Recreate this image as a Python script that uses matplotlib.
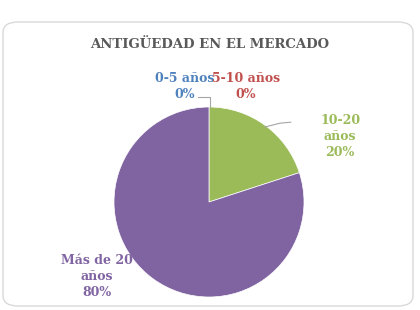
import matplotlib
matplotlib.use("Agg")
from matplotlib import pyplot as plt
from matplotlib.patches import FancyBboxPatch

categorias = ['0-5 años', '5-10 años', '10-20\naños', 'Más de 20\naños']
valores = [0, 0, 20, 80]
colores = ['#4F81BD', '#C0504D', '#9BBB59', '#8064A2']
titulo = 'ANTIGÜEDAD EN EL MERCADO'

W, H = 420, 310
fig = plt.figure(figsize=(W / 100, H / 100), dpi=100)

# marco redondeado del grafico
marco = FancyBboxPatch((3 / W, 4 / H), 410 / W, 284 / H,
                       boxstyle="round,pad=0,rounding_size=0.035",
                       transform=fig.transFigure, facecolor='white',
                       edgecolor='#D9D9D9', linewidth=1, zorder=-5)
fig.patches.append(marco)

fig.text(210 / W, 1 - 44 / H, titulo, ha='center', va='center',
         fontsize=9.5, fontweight='bold', family='DejaVu Serif', color='#595959')

# pie: centro (209, 202) px, radio 95 px
r = 95
ax = fig.add_axes([(209 - r) / W, (H - 202 - r) / H, 2 * r / W, 2 * r / H])
ax.pie(valores, colors=colores, startangle=90, counterclock=False,
       wedgeprops={'edgecolor': 'white', 'linewidth': 0.5})
ax.set_xlim(-1, 1)
ax.set_ylim(-1, 1)
ax.axis('off')

total = sum(valores)
pos = [(-0.26, 1.22), (0.39, 1.22), (1.38, 0.69), (-1.18, -0.78)]
for cat, v, c, (x, y) in zip(categorias, valores, colores, pos):
    ax.text(x, y, f'{cat}\n{v / total:.0%}', ha='center', va='center',
            fontsize=9, fontweight='bold', family='DejaVu Serif', color=c,
            linespacing=1.3, clip_on=False)

# lineas guia
ax.plot([-0.12, 0.015, 0.015], [1.11, 1.11, 1.0], color='#A6A6A6', lw=0.8, clip_on=False)
ax.plot([0.59, 0.75, 0.86], [0.79, 0.83, 0.84], color='#A6A6A6', lw=0.8, clip_on=False)

plt.savefig('out.png', dpi=100)
